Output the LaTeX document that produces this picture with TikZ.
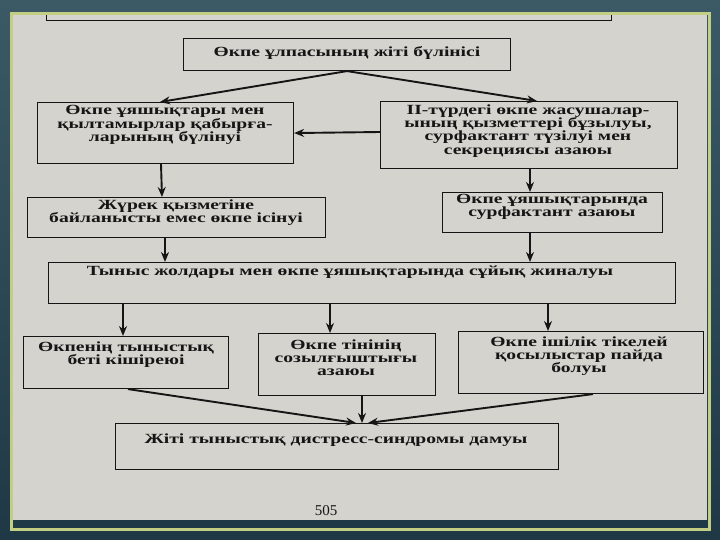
\documentclass[tikz,border=0pt]{standalone}
\usepackage{fontspec}
\usetikzlibrary{arrows.meta,calc}
\newfontfamily\bk{Liberation Serif}[FakeStretch=1.4]
\definecolor{frame}{HTML}{1F3845}
\definecolor{framelight}{HTML}{3B5A66}
\definecolor{page}{HTML}{D5D3CD}
\definecolor{gold}{HTML}{C3CD83}
\definecolor{ink}{HTML}{151515}
\tikzset{
  box/.style={draw=ink, line width=1.1pt, anchor=north west, inner sep=0pt},
  txt/.style={text=ink, align=center, inner sep=0pt, font=\bk\bfseries\fontsize{14}{13.2}\selectfont},
  arr/.style={draw=ink, line width=1.9pt, -{Stealth[length=10pt,width=8pt]}},
}
\begin{document}
\begin{tikzpicture}[x=1pt,y=-1pt]
\useasboundingbox (0,0) rectangle (720,540);
% frame background
\shade[top color=framelight, bottom color=frame] (0,0) rectangle (720,540);
\fill[page] (13,15) rectangle (707,520);
\begin{scope}
\clip (13,15) rectangle (707,520);
\node[box, minimum width=565pt, minimum height=40pt] (b0) at (46,-20) {};
\end{scope}
\draw[gold, line width=3pt] (11,14) rectangle (709,529);
% boxes
\node[box, minimum width=327pt, minimum height=32pt] (b1) at (183,38) {};
\node[box, minimum width=256pt, minimum height=61pt] (b2) at (37,102) {};
\node[box, minimum width=297pt, minimum height=67pt] (b3) at (380,101) {};
\node[box, minimum width=298pt, minimum height=40pt] (b4) at (27,197) {};
\node[box, minimum width=220pt, minimum height=40pt] (b5) at (442,192) {};
\node[box, minimum width=627pt, minimum height=41pt] (b6) at (48,262) {};
\node[box, minimum width=205pt, minimum height=52pt] (b7) at (23,336) {};
\node[box, minimum width=177pt, minimum height=62pt] (b8) at (258,333) {};
\node[box, minimum width=245pt, minimum height=62pt] (b9) at (458,331) {};
\node[box, minimum width=443pt, minimum height=46pt] (b10) at (115,423) {};
% texts
\node[txt] (t1) at (347,53) {Өкпе ұлпасының жіті бүлінісі};
\node[txt] (t2) at (165,125) {Өкпе ұяшықтары мен\\қылтамырлар қабырға-\\ларының бүлінуі};
\node[txt] (t3) at (528,131) {ІІ-түрдегі өкпе жасушалар-\\ының қызметтері бұзылуы,\\сурфактант түзілуі мен\\секрециясы азаюы};
\node[txt] (t4) at (176,213) {Жүрек қызметіне\\байланысты емес өкпе ісінуі};
\node[txt] (t5) at (552,207) {Өкпе ұяшықтарында\\сурфактант азаюы};
\node[txt] (t6) at (350,272) {Тыныс жолдары мен өкпе ұяшықтарында сұйық жиналуы};
\node[txt] (t7) at (126,355) {Өкпенің тыныстық\\беті кішіреюі};
\node[txt] (t8) at (346,358) {Өкпе тінінің\\созылғыштығы\\азаюы};
\node[txt] (t9) at (579,356) {Өкпе ішілік тікелей\\қосылыстар пайда\\болуы};
\node[txt] (t10) at (336,440) {Жіті тыныстық дистресс-синдромы дамуы};
\node[text=ink, inner sep=0pt, font=\fontspec{Liberation Serif}\fontsize{15}{15}\selectfont] (pn) at (326,511) {505};
% arrows
\draw[arr] (b1.south) -- ([xshift=123pt]b2.north west);
\draw[arr] (b1.south) -- ([xshift=157pt]b3.north west);
\draw[arr] ([yshift=-31pt]b3.north west) -- (b2.east);
\draw[arr] ([xshift=124pt]b2.south west) -- ([xshift=135pt]b4.north west);
\draw[arr] ([xshift=150pt]b3.south west) -- ([xshift=88pt]b5.north west);
\draw[arr] ([xshift=138pt]b4.south west) -- ([xshift=117pt]b6.north west);
\draw[arr] ([xshift=88pt]b5.south west) -- ([xshift=482pt]b6.north west);
\draw[arr] ([xshift=75pt]b6.south west) -- ([xshift=100pt]b7.north west);
\draw[arr] ([xshift=282pt]b6.south west) -- ([xshift=72pt]b8.north west);
\draw[arr] ([xshift=500pt]b6.south west) -- ([xshift=90pt]b9.north west);
\draw[arr] ([xshift=105pt]b7.south west) -- ([xshift=241pt]b10.north west);
\draw[arr] ([xshift=104pt]b8.south west) -- ([xshift=247pt]b10.north west);
\draw[arr] ([xshift=135pt]b9.south west) -- ([xshift=253pt]b10.north west);
\end{tikzpicture}
\end{document}
